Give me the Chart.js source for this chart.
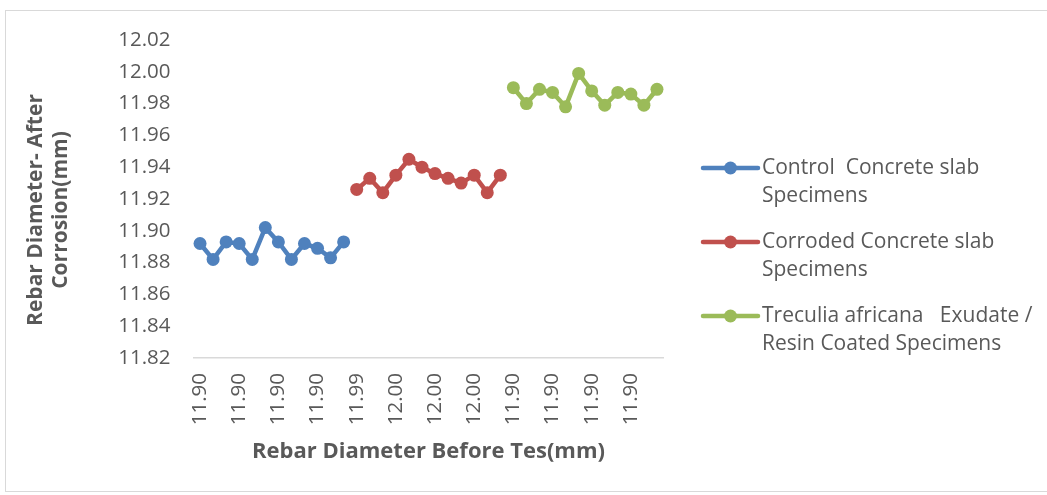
<!DOCTYPE html>
<html>
<head>
<meta charset="utf-8">
<title>Rebar Diameter After Corrosion</title>
<script src="https://cdn.jsdelivr.net/npm/chart.js@4.4.1/dist/chart.umd.min.js"></script>
<style>
  html, body { margin: 0; padding: 0; background: #ffffff; }
  #wrap { width: 1047px; height: 495px; position: relative; }
</style>
</head>
<body>
<div id="wrap"><canvas id="chart" width="1047" height="495"></canvas></div>
<script>
// Rebar diameter before test, one label per group of three specimens
const beforeTestLabels = ['11.90', '11.90', '11.90', '11.90', '11.99', '12.00',
                          '12.00', '12.00', '11.90', '11.90', '11.90', '11.90'];

// Rebar diameter after corrosion (mm), 12 specimens per series
const controlSlab  = [11.892, 11.882, 11.893, 11.892, 11.882, 11.902,
                      11.893, 11.882, 11.892, 11.889, 11.883, 11.893];
const corrodedSlab = [11.926, 11.933, 11.924, 11.935, 11.945, 11.940,
                      11.936, 11.933, 11.930, 11.935, 11.924, 11.935];
const coatedSlab   = [11.990, 11.980, 11.989, 11.987, 11.978, 11.999,
                      11.988, 11.979, 11.987, 11.986, 11.979, 11.989];

const seriesNames = [
  'Control  Concrete slab Specimens',
  'Corroded Concrete slab Specimens',
  'Treculia africana   Exudate / Resin Coated Specimens'
];
const legendLines = [
  ['Control  Concrete slab', 'Specimens'],
  ['Corroded Concrete slab', 'Specimens'],
  ['Treculia africana   Exudate /', 'Resin Coated Specimens']
];
const seriesColors = ['#4F81BD', '#C0504D', '#9BBB59'];

const xTitle = 'Rebar Diameter Before Tes(mm)';
const yTitleLines = ['Rebar Diameter- After', 'Corrosion(mm)'];

const yTicks = { min: 11.82, max: 12.02, step: 0.02 };

// The three series sit side by side on one shared specimen axis
const groups = [controlSlab, corrodedSlab, coatedSlab];
const specimenCount = groups.reduce((n, g) => n + g.length, 0);
const specimens = Array.from({ length: specimenCount }, (_, i) => String(i + 1));

function placeSeries(values, start) {
  const row = new Array(specimenCount).fill(null);
  values.forEach((v, i) => { row[start + i] = v; });
  return row;
}

let offset = 0;
const datasets = groups.map((values, k) => {
  const ds = {
    label: seriesNames[k],
    data: placeSeries(values, offset),
    borderColor: seriesColors[k],
    backgroundColor: seriesColors[k],
    borderWidth: 4.5,
    pointRadius: 6.5,
    pointHoverRadius: 6.5,
    pointBorderWidth: 0,
    pointBackgroundColor: seriesColors[k],
    spanGaps: false,
    tension: 0
  };
  offset += values.length;
  return ds;
});

const FONT = '"Open Sans", Lato, sans-serif';
const TEXT = '#595959';

// Frame around the chart
const framePlugin = {
  id: 'frame',
  beforeDraw(chart) {
    const ctx = chart.ctx;
    ctx.save();
    ctx.fillStyle = '#ffffff';
    ctx.fillRect(0, 0, chart.width, chart.height);
    ctx.strokeStyle = '#D9D9D9';
    ctx.lineWidth = 1;
    ctx.strokeRect(5.5, 10.5, chart.width + 20, chart.height - 14);
    ctx.restore();
  }
};

// Vertical axis title, two lines, centred a little below the plot middle
const yTitlePlugin = {
  id: 'yTitle',
  afterDraw(chart) {
    const ctx = chart.ctx;
    ctx.save();
    ctx.font = 'bold 21px ' + FONT;
    ctx.fillStyle = TEXT;
    ctx.textAlign = 'center';
    ctx.textBaseline = 'middle';
    const cy = (chart.chartArea.top + chart.chartArea.bottom) / 2 + 11;
    yTitleLines.forEach((line, j) => {
      ctx.save();
      ctx.translate(36 + j * 25, cy);
      ctx.rotate(-Math.PI / 2);
      ctx.fillText(line, 0, 0);
      ctx.restore();
    });
    ctx.restore();
  }
};

// Legend on the right with wrapped entry names
const sideLegend = {
  id: 'sideLegend',
  afterDraw(chart) {
    const ctx = chart.ctx;
    const x0 = 703, x1 = 758, textX = 762;
    let y = 168;
    const lineGap = 28.5, entryGap = 74;
    ctx.save();
    ctx.font = '21px ' + FONT;
    ctx.textBaseline = 'middle';
    ctx.textAlign = 'left';
    chart.data.datasets.forEach((ds, k) => {
      ctx.strokeStyle = ds.borderColor;
      ctx.lineWidth = 4.5;
      ctx.lineCap = 'round';
      ctx.beginPath();
      ctx.moveTo(x0, y);
      ctx.lineTo(x1, y);
      ctx.stroke();
      ctx.fillStyle = ds.borderColor;
      ctx.beginPath();
      ctx.arc((x0 + x1) / 2, y, 6.5, 0, Math.PI * 2);
      ctx.fill();
      ctx.fillStyle = TEXT;
      legendLines[k].forEach((line, j) => ctx.fillText(line, textX, y + j * lineGap));
      y += entryGap;
    });
    ctx.restore();
  }
};

new Chart(document.getElementById('chart'), {
  type: 'line',
  data: { labels: specimens, datasets },
  plugins: [framePlugin, yTitlePlugin, sideLegend],
  options: {
    responsive: false,
    animation: false,
    events: [],
    layout: { padding: { left: 20, top: 40, right: 383.5, bottom: 30 } },
    plugins: {
      legend: { display: false },
      tooltip: { enabled: false }
    },
    scales: {
      x: {
        type: 'category',
        offset: true,
        grid: { display: false, drawTicks: false },
        border: { display: true, color: '#D9D9D9', width: 1.5 },
        ticks: {
          autoSkip: false,
          minRotation: 90,
          maxRotation: 90,
          padding: 15,
          color: TEXT,
          font: { family: FONT, size: 20.5 },
          callback: (value, index) => index % 3 === 0 ? beforeTestLabels[index / 3] : ''
        },
        title: {
          display: true,
          text: xTitle,
          color: TEXT,
          font: { family: FONT, size: 22, weight: 'bold', lineHeight: 1.2 },
          padding: { top: 0, bottom: 0 }
        },
        afterFit(scale) { scale.height = 107; }
      },
      y: {
        min: yTicks.min,
        max: yTicks.max,
        grid: { display: false, drawTicks: false },
        border: { display: false },
        ticks: {
          stepSize: yTicks.step,
          padding: 23,
          color: TEXT,
          font: { family: FONT, size: 20.5 },
          callback: (v) => Number(v).toFixed(2)
        },
        afterFit(scale) { scale.width = 173.5; }
      }
    }
  }
});
</script>
</body>
</html>
